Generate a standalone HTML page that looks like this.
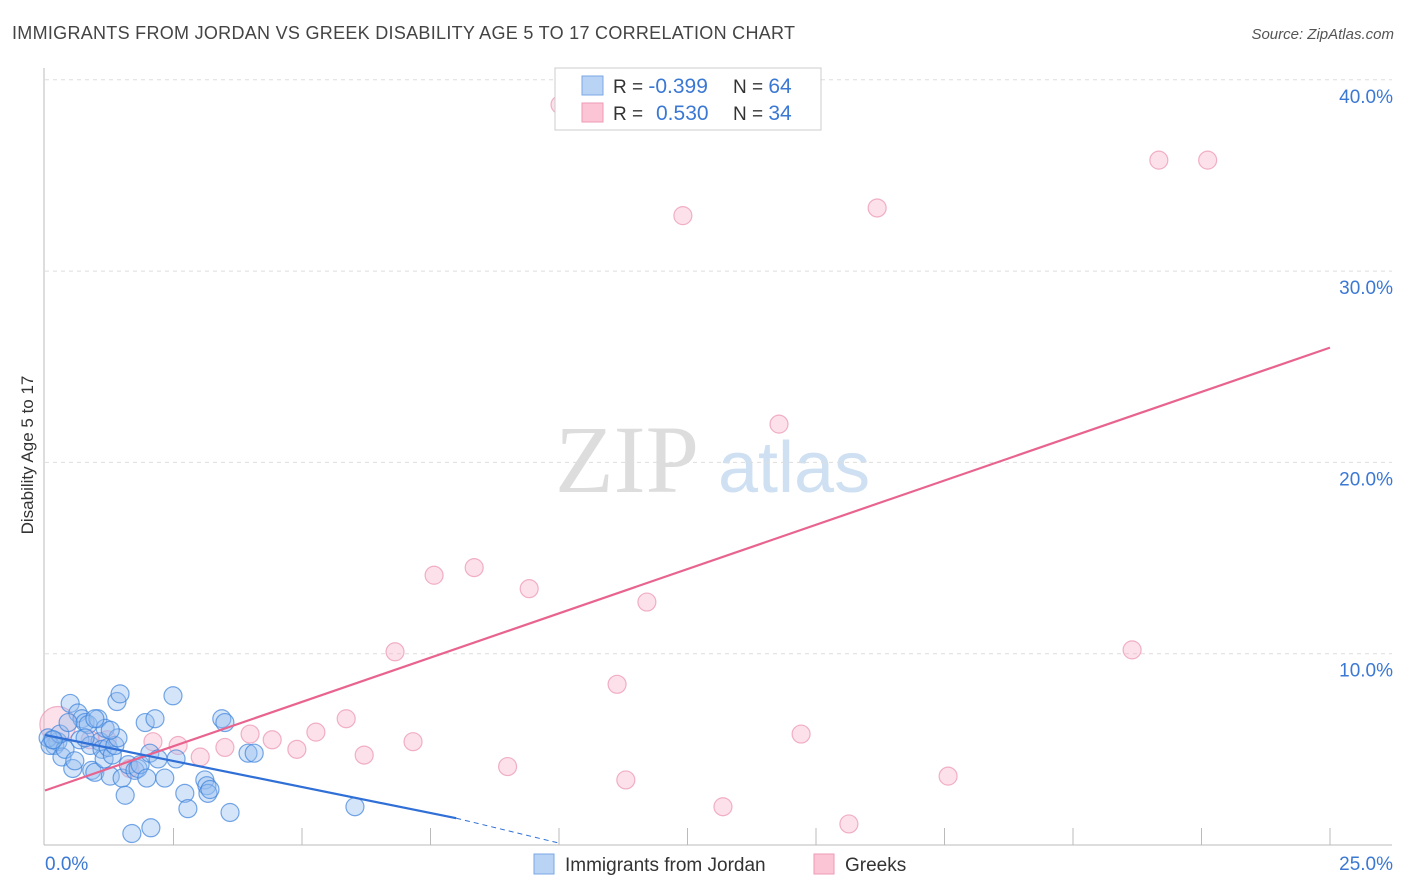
<!DOCTYPE html>
<html><head><meta charset="utf-8"><style>
body{margin:0;background:#fff;font-family:"Liberation Sans",sans-serif;}
svg{display:block}
</style></head><body>
<svg id="c" width="1406" height="892">
<text x="12" y="39" font-size="18" fill="#444" textLength="783">IMMIGRANTS FROM JORDAN VS GREEK DISABILITY AGE 5 TO 17 CORRELATION CHART</text>
<text x="1394" y="39" font-size="15" fill="#555" font-style="italic" text-anchor="end">Source: ZipAtlas.com</text>
<text transform="translate(33,455) rotate(-90)" font-size="17" fill="#333" text-anchor="middle">Disability Age 5 to 17</text>
<text x="555" y="492" font-size="96" fill="#ddd" font-family="Liberation Serif,serif">ZIP</text>
<text x="718" y="492" font-size="72" fill="#cfe0f3">atlas</text>
<g id="grid"></g><g id="pts"></g><g id="lines"></g>
<g>
<rect x="555" y="68" width="266" height="62" fill="#fff" stroke="#ccc"/>
<rect x="582" y="76" width="21" height="19" fill="#b9d3f5" stroke="#7aa7e6"/>
<rect x="582" y="103" width="21" height="19" fill="#fbc5d6" stroke="#ef9ab5"/>
<text x="613" y="93" font-size="19" fill="#333">R = <tspan fill="#3b78d4" font-size="21">-0.399</tspan><tspan x="733">N = </tspan><tspan fill="#3b78d4" font-size="21">64</tspan></text>
<text x="613" y="120" font-size="19" fill="#333">R = <tspan x="656" fill="#3b78d4" font-size="21">0.530</tspan><tspan x="733">N = </tspan><tspan fill="#3b78d4" font-size="21">34</tspan></text>
</g>
<g>
<rect x="534" y="854" width="20" height="20" fill="#b9d3f5" stroke="#7aa7e6"/>
<text x="565" y="871" font-size="19" fill="#333">Immigrants from Jordan</text>
<rect x="814" y="854" width="20" height="20" fill="#fbc5d6" stroke="#ef9ab5"/>
<text x="845" y="871" font-size="19" fill="#333">Greeks</text>
</g>
</svg>
<script>
const xTicks=[0,2.5,5,7.5,10,12.5,15,17.5,20,22.5,25];
const yTicks=[10,20,30,40];
const yTickLabels=["10.0%","20.0%","30.0%","40.0%"];
const blueX=[0.14,0.19,0.25,0.06,0.1,0.33,0.39,0.49,0.54,0.58,0.64,0.68,0.72,0.78,0.84,0.88,0.91,0.97,1.03,1.07,1.11,1.15,1.17,1.23,1.27,1.31,1.36,1.4,1.42,1.46,1.5,1.56,1.62,1.75,1.81,1.85,1.95,1.98,2.04,2.14,2.2,2.33,2.49,2.55,2.72,2.78,3.11,3.15,3.17,3.21,3.44,3.5,3.6,3.95,4.07,1.69,2.06,6.03,0.29,0.45,0.78,0.97,1.27,0.16];
const blueY=[5.5,5.2,5.4,5.6,5.2,4.6,5.0,7.4,4.0,4.4,6.9,5.5,6.6,6.4,6.3,5.2,3.9,3.8,6.6,5.4,5.0,4.5,6.1,5.1,3.6,4.7,5.2,7.5,5.6,7.9,3.5,2.6,4.2,3.9,4.0,4.2,6.4,3.5,4.8,6.6,4.5,3.5,7.8,4.5,2.7,1.9,3.4,3.1,2.7,2.9,6.6,6.4,1.7,4.8,4.8,0.6,0.9,2.0,5.8,6.4,5.6,6.6,6.0,5.5];
const pinkX=[10.02,12.41,16.19,21.67,22.62,14.28,7.57,8.35,9.42,11.71,6.81,21.15,11.13,5.86,5.27,3.99,4.42,4.9,3.5,2.59,2.1,3.02,6.21,7.16,9.0,11.3,13.19,14.71,15.64,17.57,0.25,1.65,1.21,0.88];
const pinkY=[38.7,32.9,33.3,35.8,35.8,22.0,14.1,14.5,13.4,12.7,10.1,10.2,8.4,6.6,5.9,5.8,5.5,5.0,5.1,5.2,5.4,4.6,4.7,5.4,4.1,3.4,2.0,5.8,1.1,3.6,6.3,4.0,5.5,5.5];
const pinkR=[9,9,9,9,9,9,9,9,9,9,9,9,9,9,9,9,9,9,9,9,9,9,9,9,9,9,9,9,9,9,18,9,9,9];
const blueLine=[0,5.75,8,1.4];const blueDash=[8,1.4,10,0.1];
const pinkLine=[0,2.85,25,26.0];
const X=v=>45+v*51.4, Y=v=>845-v*19.13;
const NS="http://www.w3.org/2000/svg";
function mk(p,t,a){const e=document.createElementNS(NS,t);for(const k in a)e.setAttribute(k,a[k]);p.appendChild(e);return e;}
const g=document.getElementById('grid');
yTicks.forEach((t,i)=>{
 let l=mk(g,'line',{x1:45,x2:1392,y1:Y(t),y2:Y(t),stroke:'#ddd','stroke-dasharray':'4,4'});
 
 
 let tx=mk(g,'text',{x:1393,y:Y(t)+23,'font-size':19,fill:'#3b78d4','text-anchor':'end'});tx.textContent=yTickLabels[i];
 
 
});
mk(g,'line',{x1:44,x2:44,y1:68,y2:845,stroke:'#bbb'});
mk(g,'line',{x1:44,x2:1392,y1:845,y2:845,stroke:'#bbb'});
xTicks.forEach((t,i)=>{if(i==0)return;let l=mk(g,'line',{x1:X(t),x2:X(t),y1:828,y2:845,stroke:'#bbb'});
 
 });
let a=mk(g,'text',{x:45,y:870,'font-size':19,fill:'#3b78d4'});a.textContent='0.0%';


let b=mk(g,'text',{x:1393,y:870,'font-size':19,fill:'#3b78d4','text-anchor':'end'});b.textContent='25.0%';


const P=document.getElementById('pts');
pinkX.forEach((v,i)=>{let c=mk(P,'circle',{cx:X(v),cy:Y(pinkY[i]),r:pinkR[i],fill:'rgba(248,170,195,0.35)',stroke:'rgba(232,130,165,0.6)','stroke-width':1.2});
 
 });
blueX.forEach((v,i)=>{let c=mk(P,'circle',{cx:X(v),cy:Y(blueY[i]),r:9,fill:'rgba(150,190,240,0.4)',stroke:'rgba(60,130,220,0.7)','stroke-width':1.2});
 
 });
const L=document.getElementById('lines');
let pl=mk(L,'line',{x1:X(pinkLine[0]),y1:Y(pinkLine[1]),x2:X(pinkLine[2]),y2:Y(pinkLine[3]),stroke:'#e8648f','stroke-width':2.2});


let bl=mk(L,'line',{x1:X(blueLine[0]),y1:Y(blueLine[1]),x2:X(blueLine[2]),y2:Y(blueLine[3]),stroke:'#2f6fd6','stroke-width':2.2});


let bd=mk(L,'line',{x1:X(blueDash[0]),y1:Y(blueDash[1]),x2:X(blueDash[2]),y2:Y(blueDash[3]),stroke:'#2f6fd6','stroke-width':1,'stroke-dasharray':'5,4'});


</script>
</body></html>
